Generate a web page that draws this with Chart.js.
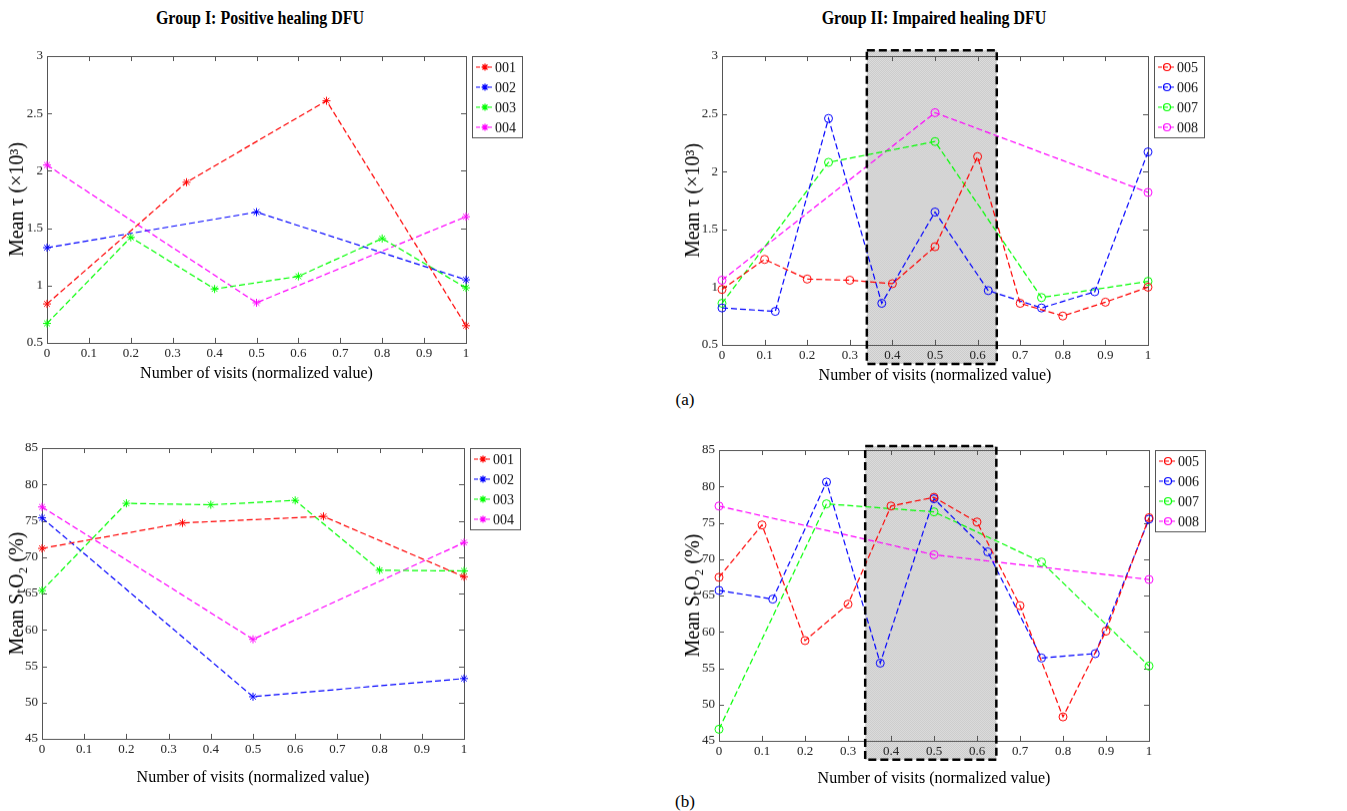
<!DOCTYPE html>
<html>
<head>
<meta charset="utf-8">
<script src="https://cdn.jsdelivr.net/npm/chart.js@4.4.0/dist/chart.umd.min.js"></script>
<style>
body { margin: 0; background: #fff; width: 1347px; height: 811px; position: relative; overflow: hidden; font-family: "Liberation Serif", serif; }
.plot { position: absolute; }
.lbl { position: absolute; transform: translate(-50%, -50%); white-space: nowrap; color: #000; }
.ttl { font-weight: bold; font-size: 19px; transform: translate(-50%, -50%) scaleX(0.84); }
</style>
</head>
<body>
<div class="lbl ttl" style="left:260px;top:18px">Group I: Positive healing DFU</div>
<div class="lbl ttl" style="left:934px;top:18px">Group II: Impaired healing DFU</div>
<div class="lbl" style="left:685px;top:400px;font-size:17px">(a)</div>
<div class="lbl" style="left:685px;top:802px;font-size:17px">(b)</div>

<div class="plot" id="wrapTL"><canvas id="tauGroup1"></canvas></div>
<div class="plot" id="wrapTR"><canvas id="tauGroup2"></canvas></div>
<div class="plot" id="wrapBL"><canvas id="stoGroup1"></canvas></div>
<div class="plot" id="wrapBR"><canvas id="stoGroup2"></canvas></div>

<script>
// normalized visit positions per patient
var visits001 = [0, 0.333, 0.667, 1];
var visits002 = [0, 0.5, 1];
var visits003 = [0, 0.2, 0.4, 0.6, 0.8, 1];
var visits004 = [0, 0.5, 1];
var visits005 = [0, 0.1, 0.2, 0.3, 0.4, 0.5, 0.6, 0.7, 0.8, 0.9, 1];
var visits006 = [0, 0.125, 0.25, 0.375, 0.5, 0.625, 0.75, 0.875, 1];
var visits007 = [0, 0.25, 0.5, 0.75, 1];
var visits008 = [0, 0.5, 1];

// mean tau (x10^3)
var tau001 = [0.84, 1.90, 2.61, 0.65];
var tau002 = [1.33, 1.64, 1.05];
var tau003 = [0.67, 1.42, 0.97, 1.08, 1.41, 0.98];
var tau004 = [2.05, 0.85, 1.60];
var tau005 = [0.98, 1.24, 1.07, 1.06, 1.03, 1.35, 2.13, 0.86, 0.75, 0.87, 1.00];
var tau006 = [0.82, 0.79, 2.46, 0.86, 1.65, 0.97, 0.82, 0.96, 2.17];
var tau007 = [0.86, 2.08, 2.26, 0.91, 1.05];
var tau008 = [1.06, 2.51, 1.82];

// mean StO2 (%)
var sto001 = [71.2, 74.7, 75.6, 67.3];
var sto002 = [75.4, 50.8, 53.3];
var sto003 = [65.4, 77.4, 77.2, 77.8, 68.2, 68.1];
var sto004 = [76.9, 58.7, 72.0];
var sto005 = [67.5, 74.7, 58.8, 63.8, 77.3, 78.5, 75.1, 63.6, 48.3, 60.1, 75.7];
var sto006 = [65.7, 64.5, 80.6, 55.7, 78.3, 71.0, 56.4, 57.0, 75.5];
var sto007 = [46.6, 77.6, 76.5, 69.6, 55.3];
var sto008 = [77.3, 70.6, 67.2];

var labels1 = ['001', '002', '003', '004'];
var labels2 = ['005', '006', '007', '008'];
var seriesColors = ['#ff0000', '#0000ff', '#00ff00', '#ff00ff'];

var xTitle = 'Number of visits (normalized value)';
var tauTitle = 'Mean \u03c4 (\u00d710\u00b3)';
var stoTitle = 'Mean S\u209cO\u2082 (%)';

// highlighted visit window (group II)
var shadeVisits = [0.34, 0.645];
var shadeTau = [0.335, 3.05];
var shadeSto = [42.4, 85.55];

var FONT = '"Liberation Serif", serif';

function makePattern(ctx) {
    let c = document.createElement('canvas');
    c.width = 2; c.height = 2;
    let g = c.getContext('2d');
    g.fillStyle = '#dedede'; g.fillRect(0, 0, 2, 2);
    g.fillStyle = '#cbcbcb'; g.fillRect(0, 0, 1, 1); g.fillRect(1, 1, 1, 1);
    return ctx.createPattern(c, 'repeat');
}

function shadeRect(chart, shade) {
    let xs = chart.scales.x, ys = chart.scales.y;
    let x0 = xs.getPixelForValue(shade.x[0]), x1 = xs.getPixelForValue(shade.x[1]);
    let y0 = ys.getPixelForValue(shade.y[1]), y1 = ys.getPixelForValue(shade.y[0]);
    return [x0, y0, x1 - x0, y1 - y0];
}

// box, inward ticks, shaded window and legend, MATLAB style
var matlabPlugin = {
    id: 'matlabStyle',
    beforeDraw: function (chart, args, opts) {
        if (!opts.shade) return;
        let ctx = chart.ctx;
        let r = shadeRect(chart, opts.shade);
        ctx.save();
        ctx.fillStyle = makePattern(ctx);
        ctx.fillRect(r[0], r[1], r[2], r[3]);
        ctx.restore();
    },
    beforeDatasetsDraw: function (chart) {
        let ctx = chart.ctx, a = chart.chartArea;
        let xs = chart.scales.x, ys = chart.scales.y;
        ctx.save();
        ctx.strokeStyle = '#555';
        ctx.lineWidth = 1;
        ctx.strokeRect(Math.round(a.left) + 0.5, Math.round(a.top) + 0.5, Math.round(a.right - a.left), Math.round(a.bottom - a.top));
        ctx.beginPath();
        xs.ticks.forEach(function (t, i) {
            let px = Math.round(xs.getPixelForTick(i)) + 0.5;
            ctx.moveTo(px, a.bottom); ctx.lineTo(px, a.bottom - 5);
            ctx.moveTo(px, a.top); ctx.lineTo(px, a.top + 5);
        });
        ys.ticks.forEach(function (t, i) {
            let py = Math.round(ys.getPixelForTick(i)) + 0.5;
            ctx.moveTo(a.left, py); ctx.lineTo(a.left + 5, py);
            ctx.moveTo(a.right, py); ctx.lineTo(a.right - 5, py);
        });
        ctx.stroke();
        ctx.restore();
    },
    afterDatasetsDraw: function (chart, args, opts) {
        let ctx = chart.ctx, a = chart.chartArea;
        if (opts.shade) {
            let r = shadeRect(chart, opts.shade);
            ctx.save();
            ctx.strokeStyle = '#000';
            ctx.lineWidth = 2.5;
            ctx.setLineDash([8, 4]);
            ctx.strokeRect(r[0], r[1], r[2], r[3]);
            ctx.restore();
        }
        // legend
        let lx = Math.round(a.right) + 6, ly = Math.round(a.top);
        let sets = chart.data.datasets;
        ctx.save();
        ctx.fillStyle = '#fff';
        ctx.fillRect(lx, ly, 50, sets.length * 20);
        ctx.strokeStyle = '#555';
        ctx.lineWidth = 1;
        ctx.strokeRect(lx + 0.5, ly + 0.5, 50, sets.length * 20 + 1);
        ctx.font = '14px ' + FONT;
        ctx.textBaseline = 'middle';
        sets.forEach(function (ds, i) {
            let cy = ly + 11 + i * 20;
            ctx.strokeStyle = ds.borderColor;
            ctx.lineWidth = 1.2;
            ctx.setLineDash([4, 2]);
            ctx.beginPath();
            ctx.moveTo(lx + 4, cy); ctx.lineTo(lx + 22, cy);
            ctx.stroke();
            ctx.setLineDash([]);
            ctx.fillStyle = 'rgba(0,0,0,0)';
            Chart.helpers.drawPoint(ctx, {
                pointStyle: ds.pointStyle, radius: 3.5, borderWidth: 1, rotation: 0
            }, lx + 13, cy);
            ctx.fillStyle = '#111';
            ctx.fillText(ds.label, lx + 23, cy + 1);
        });
        ctx.restore();
    }
};

function tickText(v) {
    return String(Math.round(v * 10) / 10);
}

function buildChart(canvasId, wrapId, spec) {
    // spec: plot rectangle in page pixels and where the axis titles sit
    let yTitleSize = 20, xTitleSize = 16;
    let titlePad = 1, padTop = 12, padRight = 62;
    let canvasLeft = spec.yTitleX - yTitleSize * 0.6 - titlePad;
    let canvasTop = spec.top - padTop;
    let axisBottom = spec.xTitleY + xTitleSize * 0.6;
    let yW = spec.left - canvasLeft;
    let xH = axisBottom - spec.bottom;
    let wrap = document.getElementById(wrapId);
    wrap.style.left = canvasLeft + 'px';
    wrap.style.top = canvasTop + 'px';
    wrap.style.width = (spec.right + padRight - canvasLeft) + 'px';
    wrap.style.height = (axisBottom - canvasTop) + 'px';

    let datasets = [];
    for (let s = 0; s < spec.labels.length; s++) {
        let pts = [];
        for (let k = 0; k < spec.xs[s].length; k++) {
            pts.push({ x: spec.xs[s][k], y: spec.ys[s][k] });
        }
        datasets.push({
            label: spec.labels[s],
            data: pts,
            borderColor: seriesColors[s],
            backgroundColor: 'rgba(0,0,0,0)',
            pointBorderColor: seriesColors[s],
            pointBackgroundColor: 'rgba(0,0,0,0)',
            pointStyle: spec.marker,
            pointRadius: 4,
            pointBorderWidth: 1,
            borderWidth: 1.2,
            borderDash: [6, 3],
            tension: 0,
            clip: false
        });
    }

    let tickFont = { family: FONT, size: 13 };

    return new Chart(document.getElementById(canvasId), {
        type: 'line',
        data: { datasets: datasets },
        plugins: [matlabPlugin],
        options: {
            responsive: true,
            maintainAspectRatio: false,
            animation: false,
            layout: { padding: { top: padTop, right: padRight, left: 0, bottom: 0 } },
            scales: {
                x: {
                    type: 'linear',
                    min: 0, max: 1,
                    grid: { display: false, drawTicks: false },
                    border: { display: false },
                    ticks: { stepSize: 0.1, font: tickFont, color: '#222', padding: 3, maxRotation: 0, autoSkip: false, callback: tickText },
                    title: { display: true, text: xTitle, font: { family: FONT, size: xTitleSize }, color: '#000', padding: 0 },
                    afterFit: function (scale) { scale.height = xH; }
                },
                y: {
                    min: spec.yMin, max: spec.yMax,
                    grid: { display: false, drawTicks: false },
                    border: { display: false },
                    ticks: { stepSize: spec.yStep, font: tickFont, color: '#222', padding: 4, callback: tickText },
                    title: { display: true, text: spec.yTitle, font: { family: FONT, size: yTitleSize }, color: '#000', padding: { top: titlePad, bottom: 0 } },
                    afterFit: function (scale) { scale.width = yW; }
                }
            },
            plugins: {
                legend: { display: false },
                tooltip: { enabled: false },
                matlabStyle: { shade: spec.shade || null }
            }
        }
    });
}

buildChart('tauGroup1', 'wrapTL', {
    left: 47, right: 466, top: 56, bottom: 342, yTitleX: 18, xTitleY: 373,
    yMin: 0.5, yMax: 3, yStep: 0.5, yTitle: tauTitle, marker: 'star',
    labels: labels1,
    xs: [visits001, visits002, visits003, visits004],
    ys: [tau001, tau002, tau003, tau004]
});

buildChart('tauGroup2', 'wrapTR', {
    left: 722, right: 1148, top: 56, bottom: 344, yTitleX: 694, xTitleY: 375,
    yMin: 0.5, yMax: 3, yStep: 0.5, yTitle: tauTitle, marker: 'circle',
    labels: labels2,
    xs: [visits005, visits006, visits007, visits008],
    ys: [tau005, tau006, tau007, tau008],
    shade: { x: shadeVisits, y: shadeTau }
});

buildChart('stoGroup1', 'wrapBL', {
    left: 42, right: 464, top: 448, bottom: 738, yTitleX: 18, xTitleY: 777,
    yMin: 45, yMax: 85, yStep: 5, yTitle: stoTitle, marker: 'star',
    labels: labels1,
    xs: [visits001, visits002, visits003, visits004],
    ys: [sto001, sto002, sto003, sto004]
});

buildChart('stoGroup2', 'wrapBR', {
    left: 719, right: 1149, top: 450, bottom: 740, yTitleX: 694, xTitleY: 778,
    yMin: 45, yMax: 85, yStep: 5, yTitle: stoTitle, marker: 'circle',
    labels: labels2,
    xs: [visits005, visits006, visits007, visits008],
    ys: [sto005, sto006, sto007, sto008],
    shade: { x: shadeVisits, y: shadeSto }
});
</script>
</body>
</html>
